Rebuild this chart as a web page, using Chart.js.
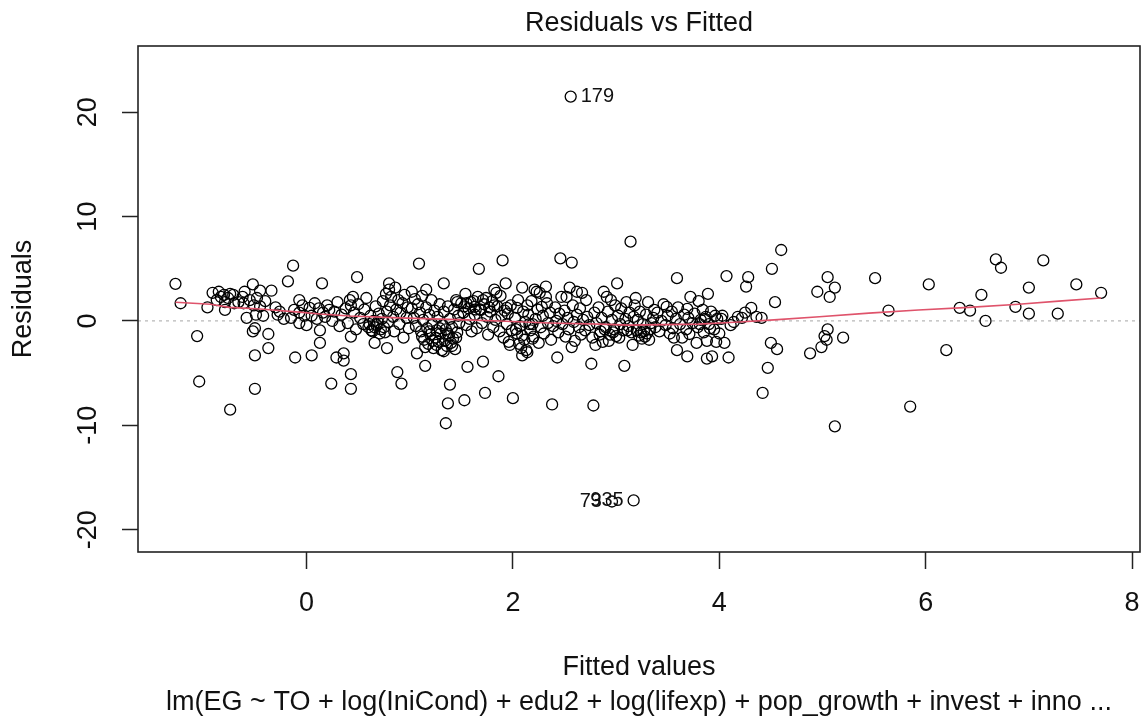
<!DOCTYPE html>
<html>
<head>
<meta charset="utf-8">
<title>Residuals vs Fitted</title>
<script src="https://cdn.jsdelivr.net/npm/chart.js@4.4.0/dist/chart.umd.min.js"></script>
<style>
  html, body { margin: 0; padding: 0; background: #fff; }
  #wrap { width: 1147px; height: 722px; }
</style>
</head>
<body>
<div id="wrap"><canvas id="residChart" width="1147" height="722"></canvas></div>
<script>
// fitted values and residuals (same order in both arrays)
const fitted = [
  -1.27,-1.22,-1.06,-1.04,-0.74,-0.96,-0.91,-0.85,-0.80,-0.76,-0.71,-0.87,-0.79,-0.79,-0.70,-0.66,-0.60,-0.52,-0.45,-0.34,-0.55,-0.48,-0.61,-0.51,-0.58,-0.49,-0.42,-0.50,-0.52,-0.37,-0.37,-0.50,-0.50,-0.18,-0.13,-0.26,-0.22,-0.12,-0.07,-0.07,0.00,-0.07,-0.11,-0.30,-0.28,-0.15,-0.04,-0.02,-0.45,-0.40,-0.62,-0.83,-0.74,
  0.03,0.13,0.15,0.05,0.24,0.29,0.36,0.36,0.43,0.43,0.43,0.13,0.16,0.22,0.49,0.45,0.66,0.78,0.60,0.80,0.80,0.88,0.92,0.42,0.43,
  0.05,0.08,0.10,0.12,0.18,0.20,0.25,0.27,0.30,0.32,0.34,0.38,0.40,0.46,0.48,0.50,0.52,0.55,0.56,0.58,0.62,0.63,0.65,0.67,0.68,0.70,0.71,0.73,0.74,0.75,0.77,0.78,0.79,0.81,0.82,0.84,0.85,0.86,0.87,0.89,0.90,0.91,0.93,0.94,0.95,0.97,0.98,0.99,
  1.09,1.67,1.90,1.33,1.93,1.16,1.02,1.07,1.15,1.39,1.37,1.53,1.35,1.56,1.71,1.86,1.73,2.00,1.97,1.82,1.74,1.45,1.46,1.84,1.82,1.94,1.63,1.69,1.55,
  1.02,1.04,1.05,1.06,1.08,1.10,1.11,1.12,1.13,1.14,1.16,1.17,1.18,1.19,1.20,1.21,1.22,1.23,1.24,1.25,1.26,1.27,1.28,1.29,1.30,1.31,1.32,1.33,1.34,1.35,1.36,1.37,1.38,1.39,1.40,1.41,1.42,1.43,1.44,1.46,1.47,1.48,
  1.50,1.52,1.54,1.55,1.57,1.58,1.60,1.62,1.63,1.65,1.66,1.68,1.70,1.72,1.75,1.76,1.78,1.80,1.81,1.83,1.85,1.87,1.88,1.89,1.91,1.92,1.94,1.95,1.96,1.98,1.99,
  2.46,2.09,2.32,2.21,2.26,2.47,2.52,2.57,2.38,2.43,2.09,2.57,2.80,2.76,2.78,3.01,2.88,2.91,2.95,2.32,2.23,2.55,2.62,2.67,2.04,2.14,2.28,
  2.02,2.04,2.05,2.07,2.08,2.10,2.11,2.12,2.14,2.15,2.17,2.18,2.19,2.20,2.22,2.24,2.25,2.27,2.29,2.30,2.33,2.34,2.36,2.37,2.39,2.41,2.42,2.44,2.45,2.48,2.50,2.51,2.53,2.54,2.58,2.59,2.60,2.62,2.64,2.65,2.66,2.68,2.70,2.71,2.72,2.74,2.77,2.79,2.81,2.83,2.85,2.86,2.87,2.90,2.92,2.94,2.96,2.98,2.99,
  3.14,3.59,3.19,3.89,3.80,3.84,3.69,3.49,3.37,4.02,4.11,3.08,3.00,3.16,3.59,3.69,3.88,3.93,4.09,4.05,3.78,3.88,3.97,3.56,3.71,4.07,4.28,4.26,4.31,4.36,4.41,
  3.20,3.22,3.24,3.25,3.27,3.28,3.30,3.32,3.33,
  3.02,3.04,3.05,3.07,3.09,3.10,3.12,3.13,3.15,3.17,3.18,3.21,3.23,3.26,3.29,3.31,3.34,3.36,3.38,3.40,3.42,3.44,3.46,3.48,3.50,3.52,3.54,3.55,3.58,3.60,3.62,3.64,3.66,3.68,3.70,3.72,3.74,3.76,3.79,3.82,3.85,3.87,3.90,3.92,3.95,3.98,4.00,4.03,4.14,4.18,4.22,4.25,
  4.42,4.47,4.50,4.56,4.54,4.51,4.60,4.88,4.95,4.99,5.02,5.04,5.05,5.05,5.07,5.12,5.20,5.12,5.51,5.64,5.85,6.03,6.20,6.33,6.43,6.54,6.58,6.68,6.73,6.87,7.00,7.00,7.14,7.28,7.46,7.70,
  0.61,0.64,0.66,0.69,0.72,0.76,1.12,1.15,1.19,1.22,1.26,1.29,1.33,1.37,1.41,1.45,2.03,2.06,2.09,2.13,2.16,2.19,2.84,2.89,2.93,2.97,3.03,3.11,3.81,3.86,3.91,3.96,1.53,1.59,1.64,1.71,1.77,
  2.56,2.96,3.17
];
const resid = [
  3.56,1.7,-1.45,-5.8,-8.5,1.3,2.7,2.8,2.5,2.2,2.5,2.0,1.8,1.06,1.7,1.8,2.8,3.5,2.9,2.9,2.0,2.2,1.7,1.5,0.3,0.6,0.5,-0.7,-1.0,-1.25,-2.6,-3.3,-6.5,3.8,5.3,0.9,0.2,1.06,2.0,-0.2,-0.4,0.8,-3.5,1.3,0.6,0.3,1.5,0.5,1.4,1.9,2.3,2.3,2.6,
  1.25,-2.1,3.6,-3.3,-6.0,-3.5,-3.1,-3.8,-5.1,-6.5,-1.5,-0.9,0.8,1.06,4.2,2.3,-2.1,-2.6,-0.6,3.6,3.0,-4.9,-6.0,2.0,1.5,
  0.5,1.7,0.2,1.2,0.4,1.5,0.0,0.9,1.8,-0.5,0.6,1.2,-0.2,0.8,-0.8,1.6,0.3,-0.3,1.1,2.2,0.5,-0.9,0.0,1.4,-0.4,0.7,-1.2,0.2,1.9,-0.6,2.6,0.9,-0.1,1.5,2.3,0.4,-1.0,3.2,1.1,2.0,-0.3,0.8,1.7,-1.6,2.5,0.3,1.3,-0.7,
  5.5,5.0,5.8,3.6,3.6,3.0,2.8,-3.1,-4.3,-6.1,-7.9,-7.6,-9.8,-4.4,-3.9,-5.3,-6.9,-7.4,-2.3,3.0,2.2,2.0,1.8,2.7,1.5,1.25,1.35,1.06,1.7,
  1.2,0.3,2.1,-0.5,1.6,0.8,-1.0,2.4,0.1,-1.8,1.3,-0.7,-2.2,0.6,-1.3,2.0,-0.3,-2.6,1.0,-1.6,-0.9,0.4,-2.0,1.6,-1.2,-2.8,-0.4,0.9,-1.9,-0.8,-2.4,1.4,-1.4,0.2,-2.1,-0.6,-1.7,1.1,-2.7,-1.1,0.5,-0.2,
  1.7,0.8,2.6,-0.4,1.2,0.2,-1.0,1.9,0.6,-0.7,2.3,1.1,-0.2,1.6,0.4,-1.3,0.9,1.9,-0.6,0.1,1.4,-1.0,2.4,0.5,-1.6,1.0,-0.3,0.7,-2.0,1.5,-0.9,
  6.0,3.2,3.3,3.0,2.7,2.3,2.3,5.6,-8.0,-3.5,-3.3,-2.5,-2.3,-4.1,-8.1,3.6,2.8,2.3,2.0,2.3,2.8,3.2,2.8,2.7,1.25,1.5,1.35,
  0.3,-1.2,2.0,-0.5,-2.6,0.9,-1.8,-0.1,-3.0,0.6,-0.9,1.9,-0.3,-1.5,0.2,1.1,-2.1,-0.6,0.5,-1.2,1.7,-0.2,0.8,-1.8,-0.5,1.3,0.0,-1.1,0.7,-0.3,1.0,-1.5,0.3,-0.8,1.5,-0.1,-1.9,0.6,-0.6,1.2,-1.3,0.1,-0.9,2.0,0.4,-0.4,-1.6,0.8,-0.2,1.3,-1.0,0.3,-2.0,-0.6,0.9,-1.3,0.1,-0.8,1.5,
  7.6,4.1,2.2,2.6,1.9,1.06,1.15,1.35,1.06,0.2,-0.4,-4.3,-1.45,-2.3,-2.8,-3.4,-3.6,-3.4,-3.5,-2.1,-2.1,-1.9,-2.0,-1.6,-1.25,4.3,4.2,3.3,1.25,0.4,0.3,
  -0.9,-1.4,-1.1,-1.7,-1.0,-1.5,-1.2,-1.8,-0.8,
  0.5,-0.3,1.2,-0.9,0.2,1.8,-0.5,0.8,-1.1,0.4,1.5,0.1,0.9,-0.3,0.6,1.8,-0.2,0.3,-0.6,0.8,-1.0,0.0,1.6,-0.4,0.5,-1.2,0.9,-0.7,0.2,1.3,-0.3,-1.6,0.6,-0.8,0.3,2.3,-0.2,0.7,-0.6,0.1,-1.1,0.4,-0.3,0.9,-0.8,0.2,-1.2,0.5,-0.1,0.4,0.3,0.8,
  -6.9,-4.5,-2.1,-2.7,1.8,5.0,6.8,-3.1,2.8,-2.5,-1.45,-1.8,-0.8,4.2,2.3,3.2,-1.6,-10.1,4.1,1.0,-8.2,3.5,-2.8,1.25,1.0,2.5,0.0,5.9,5.1,1.35,3.2,0.7,5.8,0.7,3.5,2.7,
  -0.3,-1.0,-0.6,-0.1,-0.8,-1.1,-1.5,-2.5,-1.0,-1.9,-2.3,-0.7,-2.9,-1.2,-2.4,-1.6,-0.8,-2.2,-1.4,-2.8,-0.3,-1.7,-1.3,-0.8,-1.9,-1.1,-1.6,-0.9,-0.3,0.2,-0.7,0.5,1.4,1.8,1.1,2.0,1.3,
  21.5,-17.3,-17.2
];

// red smoother
const loessX = [-1.27,-0.93,-0.75,-0.45,-0.07,0.13,0.42,0.90,1.38,1.87,2.35,2.84,3.13,3.80,4.19,4.53,4.97,5.45,5.93,6.42,6.90,7.29,7.70];
const loessY = [1.8,1.6,1.3,1.15,0.85,0.67,0.48,0.3,0.15,0.0,-0.2,-0.3,-0.4,-0.3,-0.1,0.1,0.4,0.75,1.05,1.3,1.6,1.9,2.2];

// labelled observations
const idLabels = ['179', '73', '935'];
const idFitted = [2.56, 2.96, 3.17];
const idResid = [21.5, -17.3, -17.2];

const xTicks = [0, 2, 4, 6, 8];
const yTicks = [-20, -10, 0, 10, 20];
const xMin = -1.633, xMax = 8.077;
const yMin = -22.14, yMax = 26.35;

const FONT = '"Liberation Sans", Arial, sans-serif';
Chart.defaults.font.family = FONT;
Chart.defaults.color = '#111';

const points = fitted.map((v, i) => ({ x: v, y: resid[i] }));
const smooth = loessX.map((v, i) => ({ x: v, y: loessY[i] }));

const framePlugin = {
  id: 'frame',
  afterDraw(chart) {
    const { ctx, chartArea: a } = chart;
    ctx.save();
    ctx.strokeStyle = '#222';
    ctx.lineWidth = 1.6;
    ctx.strokeRect(a.left, a.top, a.right - a.left, a.bottom - a.top);
    ctx.restore();
  }
};

const idLabelPlugin = {
  id: 'idLabels',
  afterDatasetsDraw(chart) {
    const { ctx, scales: { x, y } } = chart;
    const mid = (Math.min(...idFitted) + Math.max(...idFitted)) / 2;
    ctx.save();
    ctx.font = '20px ' + FONT;
    ctx.fillStyle = '#111';
    ctx.textBaseline = 'middle';
    idLabels.forEach((lab, i) => {
      const px = x.getPixelForValue(idFitted[i]);
      const py = y.getPixelForValue(idResid[i]);
      const toRight = idFitted[i] <= mid;
      ctx.textAlign = toRight ? 'left' : 'right';
      ctx.fillText(lab, toRight ? px + 10 : px - 10, py);
    });
    ctx.restore();
  }
};

new Chart(document.getElementById('residChart'), {
  type: 'scatter',
  data: {
    datasets: [
      {
        label: 'smooth',
        data: smooth,
        showLine: true,
        borderColor: '#DF536B',
        borderWidth: 1.6,
        pointRadius: 0,
        tension: 0
      },
      {
        label: 'residuals',
        data: points,
        pointStyle: 'circle',
        pointRadius: 5.5,
        borderWidth: 1.3,
        borderColor: '#000',
        backgroundColor: 'rgba(0,0,0,0)'
      },
      {
        label: 'zero',
        data: [{ x: xMin, y: 0 }, { x: xMax, y: 0 }],
        showLine: true,
        borderColor: '#b8b8b8',
        borderWidth: 1.3,
        borderDash: [3, 4],
        pointRadius: 0
      }
    ]
  },
  options: {
    responsive: false,
    devicePixelRatio: 1,
    animation: false,
    events: [],
    layout: { padding: { left: 0, right: 7, top: 0, bottom: 0 } },
    plugins: {
      legend: { display: false },
      tooltip: { enabled: false },
      title: {
        display: true,
        text: 'Residuals vs Fitted',
        fullSize: false,
        font: { size: 27, weight: 'normal' },
        color: '#111',
        padding: { top: 7.4, bottom: 6.2 }
      }
    },
    scales: {
      x: {
        type: 'linear',
        min: xMin,
        max: xMax,
        afterBuildTicks: s => { s.ticks = xTicks.map(v => ({ value: v })); },
        afterFit: s => { s.height = 170; s.paddingLeft = 0; s.paddingRight = 0; },
        border: { display: false },
        grid: { drawOnChartArea: false, tickLength: 17, tickColor: '#222', tickWidth: 1.5 },
        ticks: { font: { size: 27 }, color: '#111', padding: 18.4, maxRotation: 0, autoSkip: false },
        title: {
          display: true,
          text: ['Fitted values', 'lm(EG ~ TO + log(IniCond) + edu2 + log(lifexp) + pop_growth + invest + inno ...'],
          font: { size: 27, lineHeight: 1.3 },
          color: '#111',
          padding: { top: 0, bottom: 1.5 }
        }
      },
      y: {
        type: 'linear',
        min: yMin,
        max: yMax,
        afterBuildTicks: s => { s.ticks = yTicks.map(v => ({ value: v })); },
        afterFit: s => { s.width = 138; s.paddingTop = 0; s.paddingBottom = 0; },
        border: { display: false },
        grid: { drawOnChartArea: false, tickLength: 16, tickColor: '#222', tickWidth: 1.5 },
        ticks: { font: { size: 27 }, color: '#111', padding: 13.5, minRotation: 90, maxRotation: 90, crossAlign: 'center', autoSkip: false },
        title: {
          display: true,
          text: 'Residuals',
          font: { size: 27 },
          color: '#111',
          padding: { top: 7, bottom: 0 }
        }
      }
    }
  },
  plugins: [framePlugin, idLabelPlugin]
});
</script>
</body>
</html>
